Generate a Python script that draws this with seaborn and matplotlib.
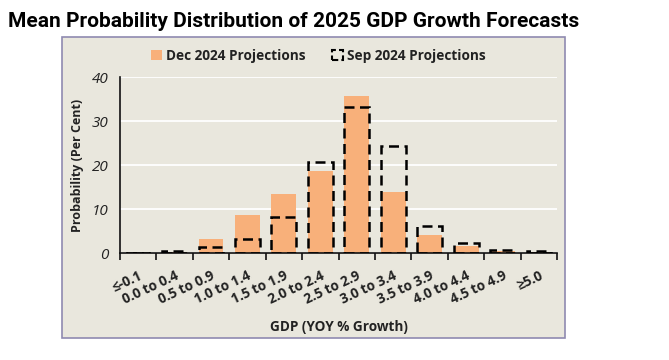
import matplotlib
matplotlib.use('Agg')
import matplotlib.pyplot as plt
import seaborn as sns
import pandas as pd
from matplotlib.patches import Patch, Rectangle

# data
categories = ['≤-0.1', '0.0 to 0.4', '0.5 to 0.9', '1.0 to 1.4', '1.5 to 1.9', '2.0 to 2.4',
              '2.5 to 2.9', '3.0 to 3.4', '3.5 to 3.9', '4.0 to 4.4', '4.5 to 4.9', '≥5.0']
dec_2024 = [0.1, 0.2, 3.1, 8.7, 13.4, 18.7, 35.7, 13.8, 4.2, 1.6, 0.5, 0.2]
sep_2024 = [0.1, 0.4, 1.3, 3.2, 8.2, 20.6, 33.3, 24.4, 6.1, 2.3, 0.8, 0.4]

df = pd.DataFrame({'GDP': categories, 'Dec': dec_2024, 'Sep': sep_2024})

orange = '#F8B07A'
bg = '#E9E7DD'
txt = '#222222'

sns.set_theme(style='white')
plt.rcParams['font.family'] = ['Open Sans', 'DejaVu Sans']

fig = plt.figure(figsize=(6.69, 3.6), dpi=100)
fig.patch.set_facecolor('white')

# chart box
fig.patches.append(Rectangle((0.0934, 0.061), 0.751, 0.836, transform=fig.transFigure,
                             facecolor=bg, edgecolor='#8F8AB0', linewidth=1.2, zorder=-1))

ax = fig.add_axes([0.179, 0.297, 0.654, 0.489])
ax.set_zorder(2)
ax.set_facecolor(bg)

sns.barplot(data=df, x='GDP', y='Dec', color=orange, width=0.68, saturation=1,
            linewidth=0, ax=ax, zorder=2)
sns.barplot(data=df, x='GDP', y='Sep', color='black', fill=False, width=0.68,
            linewidth=1.8, linestyle=(0, (4, 2.2)), ax=ax, zorder=3)

ax.set_ylim(0, 40)
ax.set_xlim(-0.5, len(categories) - 0.5)
ax.set_yticks([0, 10, 20, 30, 40])
ax.yaxis.grid(True, color='white', linewidth=1.3, zorder=1)
ax.set_axisbelow(True)
for s in ['top', 'right']:
    ax.spines[s].set_visible(False)
for s in ['left', 'bottom']:
    ax.spines[s].set_color('#111111')
    ax.spines[s].set_linewidth(1.2)

ax.tick_params(axis='y', which='major', direction='out', length=5, width=1.2,
               color='#111111', labelsize=11, labelcolor=txt, pad=3)
for lab in ax.get_yticklabels():
    lab.set_fontstyle('italic')

# x ticks at category boundaries
ax.set_xticks([i - 0.5 for i in range(len(categories) + 1)], minor=True)
ax.tick_params(axis='x', which='minor', direction='out', length=5, width=1.2,
               color='#111111', bottom=True)
ax.tick_params(axis='x', which='major', length=0, pad=11)
ax.set_xticks(range(len(categories)))
ax.set_xticklabels(categories, rotation=25, ha='right', rotation_mode='anchor',
                   fontsize=9.8, fontweight='bold', color=txt)

ax.set_xlabel('GDP (YOY % Growth)', fontsize=9.8, fontweight='bold', color=txt, labelpad=10)
ax.set_ylabel('Probability (Per Cent)', fontsize=9, fontweight='bold', color=txt, labelpad=6)

handles = [Patch(facecolor=orange, edgecolor='none'),
           Patch(facecolor='none', edgecolor='black', linestyle=(0, (3, 1.5)), linewidth=1.5)]
fig.legend(handles, ['Dec 2024 Projections', 'Sep 2024 Projections'], ncol=2,
           loc='center', bbox_to_anchor=(0.476, 0.845), frameon=False,
           prop={'size': 9.8, 'weight': 'bold'}, labelcolor=txt,
           handlelength=0.8, handleheight=0.8, handletextpad=0.25, columnspacing=2.0)

fig.text(0.012, 0.94, 'Mean Probability Distribution of 2025 GDP Growth Forecasts',
         fontsize=15, fontweight='bold', color='black', ha='left', va='center',
         family=['Roboto', 'DejaVu Sans'])

fig.savefig('out.png', dpi=100)
